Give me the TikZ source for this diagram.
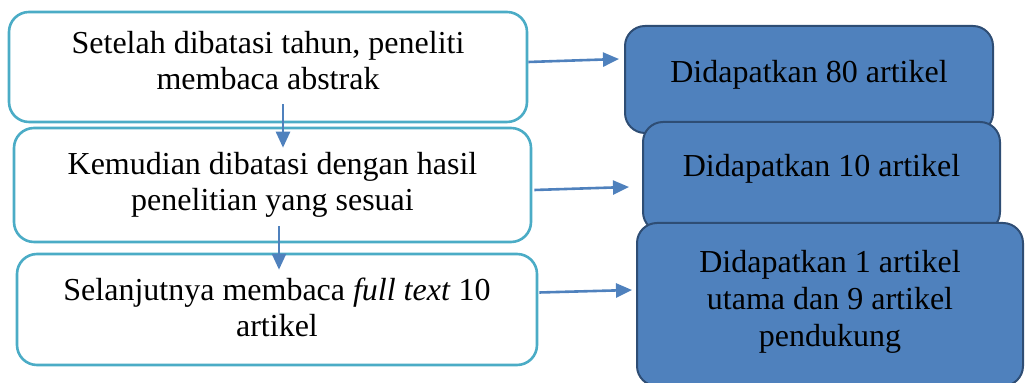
\documentclass[tikz,border=0pt]{standalone}
\usepackage{fontspec}
\setmainfont{Liberation Serif}
\usepackage{tikz}
\usetikzlibrary{arrows.meta, positioning, calc}
\definecolor{stepTeal}{HTML}{4BACC6}
\definecolor{resBlue}{HTML}{4F81BD}
\definecolor{resEdge}{HTML}{2E4D74}
\colorlet{arrowBlue}{resBlue}

\tikzset{
  stepbox/.style={draw=stepTeal, line width=1.3pt, rounded corners=10pt, fill=white,
    align=center, font=\fontsize{16}{18}\selectfont, inner sep=0pt},
  resbox/.style={draw=resEdge, line width=1pt, rounded corners=10pt, fill=resBlue,
    align=center, font=\fontsize{16}{18.5}\selectfont, inner sep=0pt},
  flow/.style={-{Triangle[length=8pt, width=7pt]}, arrowBlue, line width=1.3pt}
}

\begin{document}
\begin{tikzpicture}[x=0.5pt, y=-0.5pt]
  \useasboundingbox (0,0) rectangle (1027,383);

  % Steps on the left
  \node[stepbox, minimum width=259pt, minimum height=55pt, text depth=7pt] (s1) at (268,67)
    {Setelah dibatasi tahun, peneliti\\membaca abstrak};
  \node[stepbox, minimum width=258.5pt, minimum height=57pt] (s2) at (272.5,185)
    {Kemudian dibatasi dengan hasil\\penelitian yang sesuai};
  \node[stepbox, minimum width=260pt, minimum height=55.5pt, text depth=2pt] (s3) at (277,309.5)
    {Selanjutnya membaca \textit{full text} 10\\artikel};

  % Results on the right (stacked, later ones on top)
  \node[resbox, minimum width=184pt, minimum height=53.5pt, text depth=8pt] (r1) at (809,79.5)
    {Didapatkan 80 artikel};
  \node[resbox, minimum width=178.5pt, minimum height=55pt, text depth=12pt] (r2) at (821.5,177)
    {Didapatkan 10 artikel};
  \node[resbox, minimum width=193pt, minimum height=81.5pt, text depth=6pt] (r3) at (830,304.5)
    {Didapatkan 1 artikel\\utama dan 9 artikel\\pendukung};

  % Arrows down
  \draw[flow] ([xshift=7.5pt, yshift=9.5pt]s1.south) -- ([xshift=5.25pt, yshift=-10.5pt]s2.north);
  \draw[flow] ([xshift=3.25pt, yshift=8.5pt]s2.south) -- ([xshift=1pt, yshift=-8.5pt]s3.north);

  % Arrows to the results
  \draw[flow] ([yshift=2.5pt]s1.east) -- ([xshift=-2.5pt, yshift=10.25pt]r1.west);
  \draw[flow] ([xshift=1pt, yshift=-2.5pt]s2.east) -- ([xshift=-6.5pt, yshift=-5pt]r2.west);
  \draw[flow] ([xshift=0.5pt, yshift=8.5pt]s3.east) -- ([xshift=-2pt, yshift=7.25pt]r3.west);
\end{tikzpicture}
\end{document}
